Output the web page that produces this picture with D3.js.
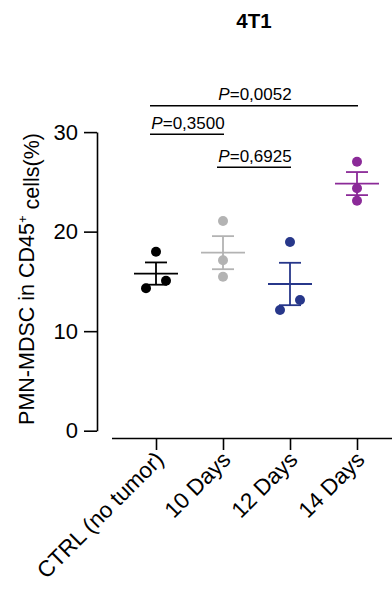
<!DOCTYPE html>
<html>
<head>
  <meta charset="utf-8">
  <script src="https://d3js.org/d3.v7.min.js"></script>
  <style>
    body { margin: 0; background: #fff; }
    text { font-family: "Liberation Sans", Arial, sans-serif; fill: #000; }
  </style>
</head>
<body>
  <div id="chart"></div>
  <script>

    // groups and their colours
    var groups = ["CTRL (no tumor)", "10 Days", "12 Days", "14 Days"];
    var groupColours = ["#000000", "#b3b3b3", "#27378a", "#8b2a98"];

    // replicate values (% PMN-MDSC in CD45+ cells)
    var ctrlValues = [17.98, 14.31, 15.07];
    var day10Values = [21.07, 17.12, 15.47];
    var day12Values = [18.96, 12.13, 13.13];
    var day14Values = [27.03, 24.35, 23.10];

    var yTicks = [0, 10, 20, 30];

    // significance brackets: [from group, to group, p text, bracket height in y units]
    var brackets = [
      ["CTRL (no tumor)", "14 Days", "=0,0052", 32.65],
      ["CTRL (no tumor)", "10 Days", "=0,3500", 29.78],
      ["10 Days", "12 Days", "=0,6925", 26.46]
    ];

    var allValues = [ctrlValues, day10Values, day12Values, day14Values];

    var W = 392, H = 596;

    var svg = d3.select("#chart").append("svg")
      .attr("width", W)
      .attr("height", H);

    var x = d3.scalePoint()
      .domain(groups)
      .range([156, 357]);

    var y = d3.scaleLinear()
      .domain([0, 30])
      .range([430.7, 132.1]);

    var r = 5;

    // title
    svg.append("text")
      .attr("x", 254)
      .attr("y", 27.5)
      .attr("text-anchor", "middle")
      .style("font-size", "20.5px")
      .style("font-weight", "bold")
      .text("4T1");

    // y axis
    var yAxis = d3.axisLeft(y)
      .tickValues(yTicks)
      .tickSize(13)
      .tickSizeOuter(0)
      .tickPadding(6);

    var yg = svg.append("g")
      .attr("transform", "translate(97,0)")
      .call(yAxis);
    yg.selectAll("path, line").attr("stroke", "#000").attr("stroke-width", 1.6);
    yg.selectAll("text")
      .style("font-size", "22px")
      .style("font-family", "'Liberation Sans', Arial, sans-serif");

    // y title
    var yTitle = svg.append("text")
      .attr("transform", "translate(34,279) rotate(-90)")
      .attr("text-anchor", "middle")
      .style("font-size", "21.5px");
    yTitle.append("tspan").text("PMN-MDSC in CD45");
    yTitle.append("tspan").attr("dy", "-0.55em").style("font-size", "13px").text("+");
    yTitle.append("tspan").attr("dy", "0.55em").text(" cells(%)");

    // x axis
    var xAxis = d3.axisBottom(x)
      .tickSize(12)
      .tickSizeOuter(0)
      .tickFormat("");

    var xg = svg.append("g")
      .attr("transform", "translate(0,438)")
      .call(xAxis);
    xg.select(".domain").attr("d", "M112,0.5H392");
    xg.selectAll("path, line").attr("stroke", "#000").attr("stroke-width", 1.6);

    svg.append("g")
      .selectAll("text")
      .data(groups)
      .enter().append("text")
      .attr("transform", function (d) {
        return "translate(" + (x(d) + 9) + ",461) rotate(-45)";
      })
      .attr("text-anchor", "end")
      .style("font-size", "22.5px")
      .text(function (d) { return d; });

    // spread points that overlap (lower one to the left)
    function spread(values) {
      var order = d3.range(values.length).sort(function (a, b) { return values[a] - values[b]; });
      var offs = values.map(function () { return 0; });
      for (var i = 0; i < order.length - 1; i++) {
        var a = order[i], b = order[i + 1];
        if (Math.abs(y(values[a]) - y(values[b])) < 2 * r + 1 && offs[a] === 0) {
          offs[a] = -2 * r;
          offs[b] = 2 * r;
        }
      }
      return offs;
    }

    // dots + mean/SEM
    groups.forEach(function (g, gi) {
      var vals = allValues[gi];
      var col = groupColours[gi];
      var cx = x(g);
      var m = d3.mean(vals);
      var sem = d3.deviation(vals) / Math.sqrt(vals.length);
      var offs = spread(vals);

      var grp = svg.append("g");

      grp.selectAll("circle")
        .data(vals)
        .enter().append("circle")
        .attr("cx", function (d, i) { return cx + offs[i]; })
        .attr("cy", function (d) { return y(d); })
        .attr("r", r)
        .attr("fill", col);

      var lines = [
        [cx - 22, y(m), cx + 22, y(m)],
        [cx, y(m + sem), cx, y(m - sem)],
        [cx - 11, y(m + sem), cx + 11, y(m + sem)],
        [cx - 11, y(m - sem), cx + 11, y(m - sem)]
      ];
      grp.selectAll("line")
        .data(lines)
        .enter().append("line")
        .attr("x1", function (d) { return d[0]; })
        .attr("y1", function (d) { return d[1]; })
        .attr("x2", function (d) { return d[2]; })
        .attr("y2", function (d) { return d[3]; })
        .attr("stroke", col)
        .attr("stroke-width", 1.8);
    });

    // significance brackets
    var bg = svg.append("g");
    brackets.forEach(function (b) {
      var x1 = x(b[0]) - 6, x2 = x(b[1]) + 1, by = y(b[3]);
      bg.append("line")
        .attr("x1", x1).attr("x2", x2)
        .attr("y1", by).attr("y2", by)
        .attr("stroke", "#000")
        .attr("stroke-width", 1.5);
      var t = bg.append("text")
        .attr("x", (x1 + x2) / 2 + 1)
        .attr("y", by - 5.5)
        .attr("text-anchor", "middle")
        .style("font-size", "17px");
      t.append("tspan").style("font-style", "italic").text("P");
      t.append("tspan").text(b[2]);
    });

  </script>
</body>
</html>
